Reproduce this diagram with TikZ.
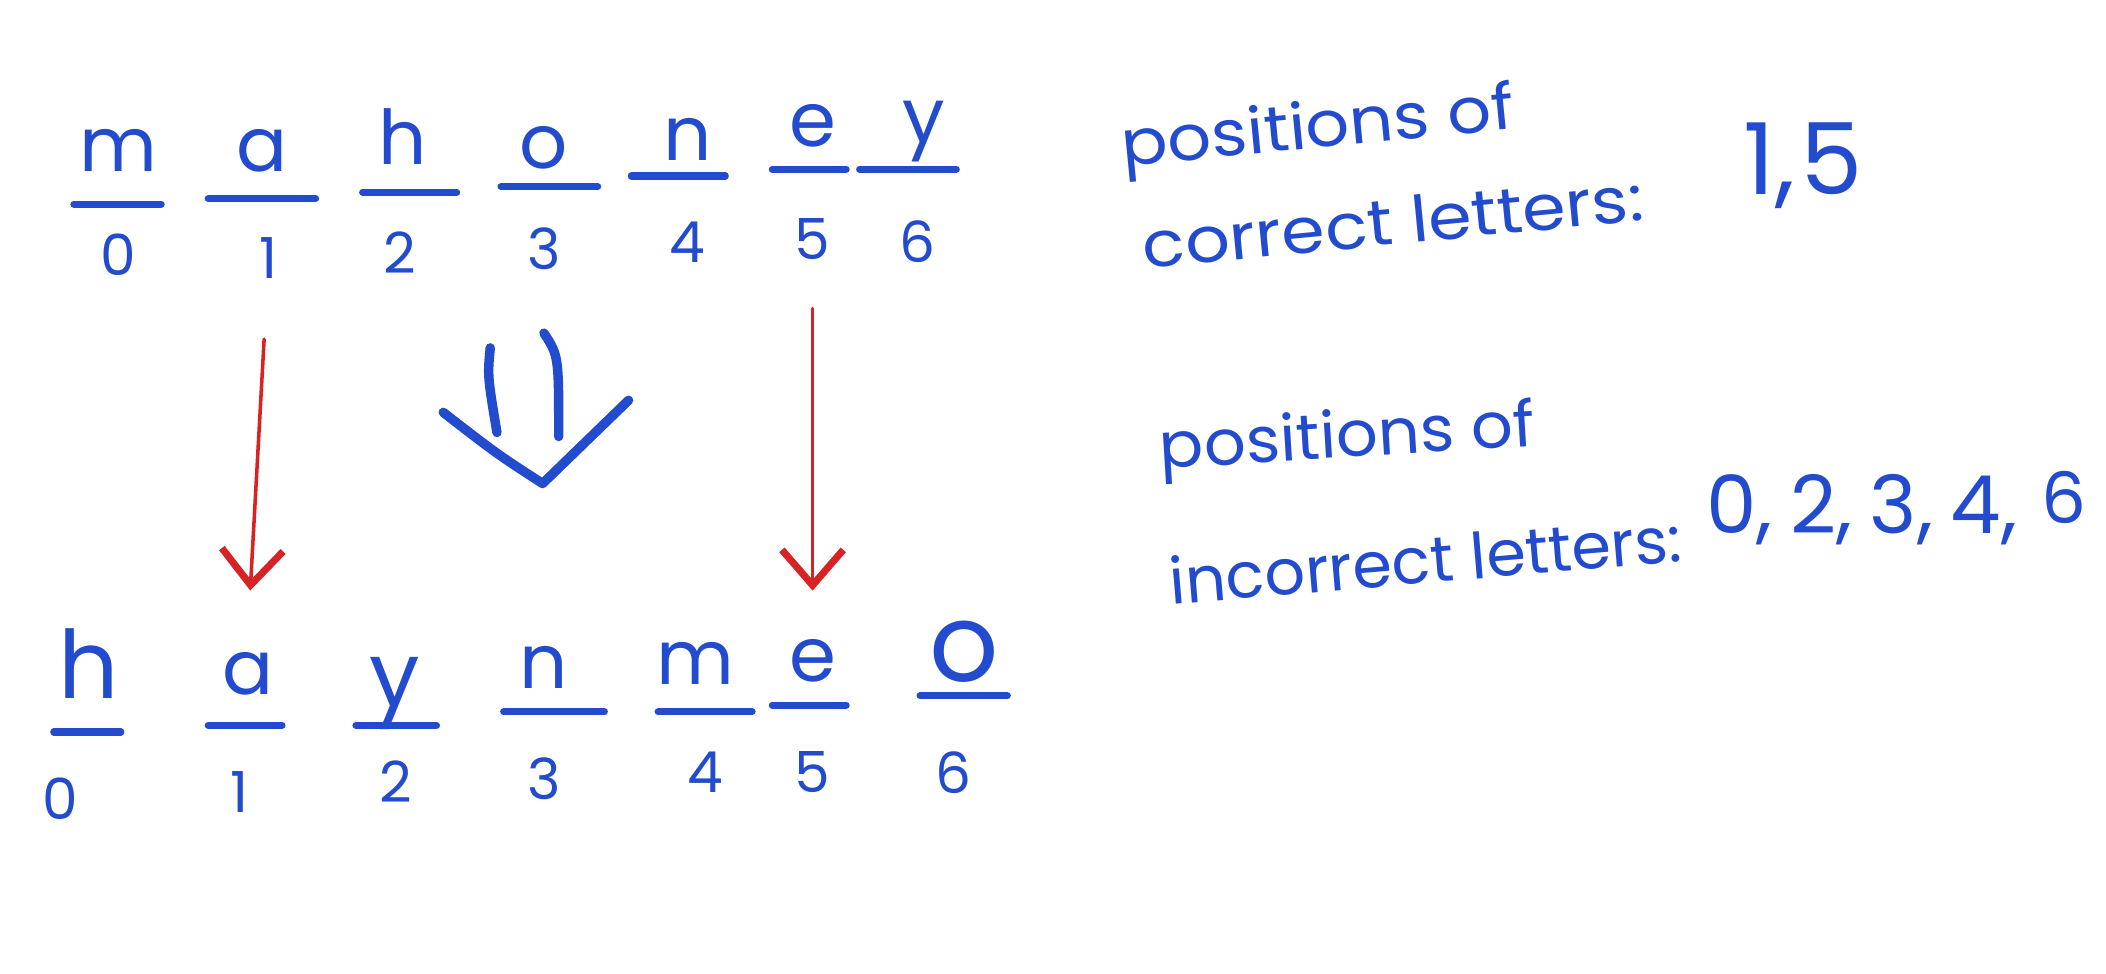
\documentclass[tikz,border=0pt]{standalone}
\usepackage{fontspec}
\setmainfont{Poppins}
\usetikzlibrary{arrows.meta}
\definecolor{ink}{RGB}{35,75,205}
\definecolor{redink}{RGB}{215,35,35}
\newcommand\mybignumfont{\fontsize{42}{46}\selectfont}
\newcommand\mymidnumfont{\fontsize{34}{38}\selectfont}
\newcommand\mysmallnumfont{\fontsize{30}{34}\selectfont}
\begin{document}
\begin{tikzpicture}[x=0.02cm,y=-0.02cm,
  letter/.style={text=ink,font=\fontsize{32}{36}\selectfont,inner sep=0pt},
  bigletter/.style={text=ink,font=\fontsize{46}{50}\selectfont,inner sep=0pt},
  digit/.style={text=ink,font=\fontsize{24}{28}\selectfont,inner sep=0pt},
  blank/.style={draw=ink,line width=3pt,line cap=round},
  note/.style={text=ink,font=\fontsize{27}{30}\selectfont,anchor=base west,inner sep=0pt},
  redarrow/.style={draw=redink,line width=1.5pt,line cap=round,-{Straight Barb[length=15pt,width=26pt,line width=3pt]}},
  bluearrow/.style={draw=ink,line width=4pt,line cap=round,line join=round},
]
\fill[white] (0,0) rectangle (1568,725);
\useasboundingbox (0,0) rectangle (1568,725);

% top row: mahoney
\node[letter] (tm) at (88,112) {m};
\node[letter] (ta) at (195,112) {a};
\node[letter] (th) at (300,102) {h};
\node[letter] (to) at (405,110) {o};
\node[letter] (tn) at (512,104) {n};
\node[letter] (te) at (605,94) {e};
\node[letter] (ty) at (688,98) {y};
\draw[blank] (55,152) -- (120,152);
\draw[blank] (155,148) -- (235,148);
\draw[blank] (270,143) -- (340,143);
\draw[blank] (373,139) -- (445,139);
\draw[blank] (470,131) -- (540,131);
\draw[blank] (575,126) -- (630,126);
\draw[blank] (640,126) -- (712,126);
\node[digit] (t0) at (88,190) {0};
\node[digit] (t1) at (200,192) {1};
\node[digit] (t2) at (298,188) {2};
\node[digit] (t3) at (405,185) {3};
\node[digit] (t4) at (512,180) {4};
\node[digit] (t5) at (605,178) {5};
\node[digit] (t6) at (683,180) {6};

% bottom row: haynmeo
\node[letter,font=\fontsize{40}{44}\selectfont] (bh) at (66,494) {h};
\node[letter] (ba) at (185,502) {a};
\node[letter,font=\fontsize{38}{42}\selectfont] (by) at (294,516) {y};
\node[letter] (bn) at (405,497) {n};
\node[letter] (bm) at (518,494) {m};
\node[letter] (be) at (605,492) {e};
\node[bigletter] (bo) at (718,485) {o};
\draw[blank] (40,545) -- (90,545);
\draw[blank] (155,540) -- (210,540);
\draw[blank] (265,540) -- (325,540);
\draw[blank] (375,530) -- (450,530);
\draw[blank] (490,530) -- (560,530);
\draw[blank] (575,525) -- (630,525);
\draw[blank] (685,518) -- (750,518);
\node[digit] (b0) at (45,595) {0};
\node[digit] (b1) at (178,590) {1};
\node[digit] (b2) at (295,582) {2};
\node[digit] (b3) at (405,580) {3};
\node[digit] (b4) at (525,575) {4};
\node[digit] (b5) at (605,575) {5};
\node[digit] (b6) at (710,575) {6};

% red arrows
\draw[redarrow,shorten <=0.9cm,shorten >=2.7cm] (t1) -- (b1);
\draw[redarrow,shorten <=0.72cm,shorten >=0.72cm] (t5) -- (be);

% blue double arrow
\coordinate (s1a) at (365,259); \coordinate (s1b) at (370,322);
\coordinate (s2a) at (405,248); \coordinate (s2b) at (416,325);
\coordinate (vl) at (330,307); \coordinate (vt) at (404,360); \coordinate (vr) at (468,298);
\draw[bluearrow] (s1a) .. controls (363,280) .. (s1b);
\draw[bluearrow] (s2a) .. controls (416,265) .. (s2b);
\draw[bluearrow] (vl) .. controls (370,338) .. (vt) -- (vr);

% notes
\node[note,rotate=5.5,xscale=1.08] (n1) at (836,124) {positions of};
\node[note,rotate=5.5,xscale=1.1] (n2) at (852,200) {correct letters:};
\node[note] (n2b) at (1298,145) {\mybignumfont 1,\hspace{0.05em}5};
\node[note,rotate=3.5,xscale=1.03] (n3) at (864,349) {positions of};
\node[note,rotate=4.8] (n4) at (872,450) {incorrect letters:};
\node[note] (n4b) at (1270,397) {\mymidnumfont 0,\hspace{0.22em}2,\hspace{0.22em}3,\hspace{0.22em}4,\hspace{0.3em}\raisebox{0.15cm}{\mysmallnumfont 6}};
\end{tikzpicture}
\end{document}
